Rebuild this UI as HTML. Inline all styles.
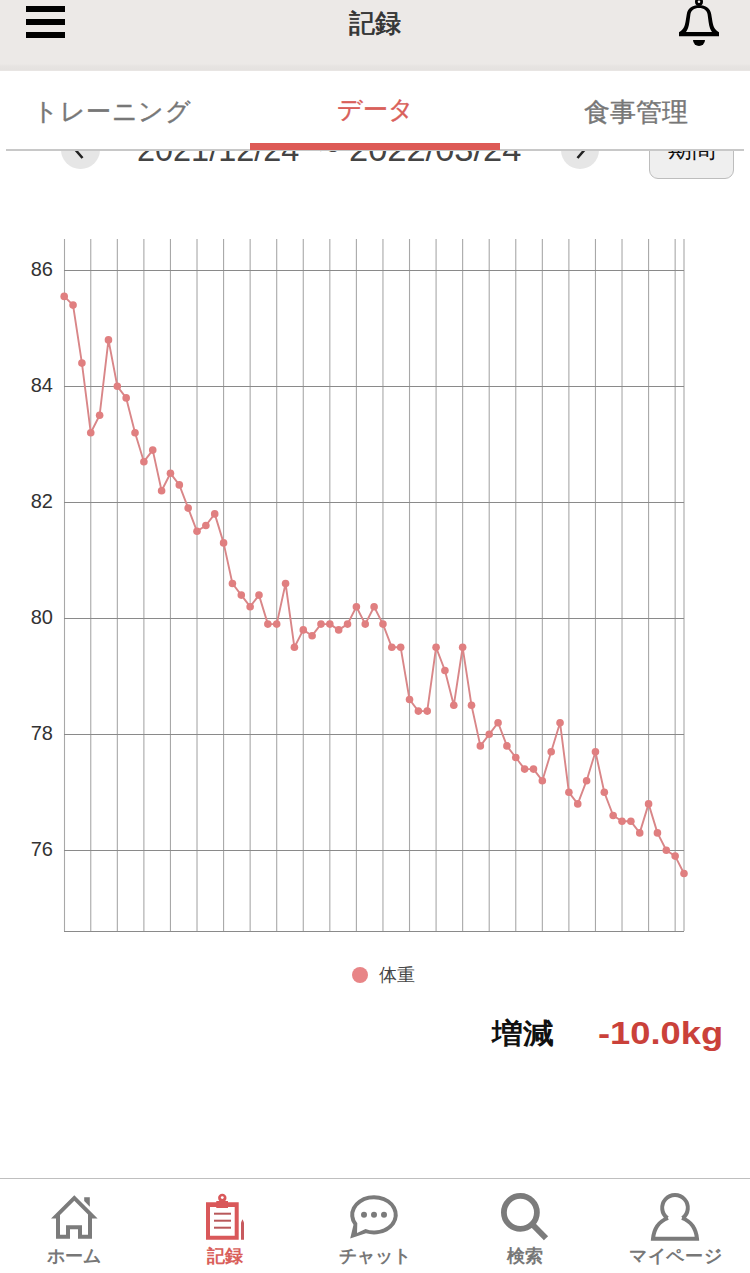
<!DOCTYPE html>
<html lang="ja"><head><meta charset="utf-8">
<style>
html,body{margin:0;padding:0;}
body{width:750px;height:1273px;position:relative;overflow:hidden;background:#fff;font-family:"Liberation Sans",sans-serif;}
.abs{position:absolute;}
.header{left:0;top:0;width:750px;height:71px;background:linear-gradient(to bottom,#ece9e7 0,#ece9e7 64px,#e7e4e2 66px,#e5e2e0 70px,#ebe8e6 71px);}
.ham{left:26px;width:39px;height:6px;background:#000;}
.title{left:0;width:750px;top:6px;text-align:center;font-size:26px;color:#333;line-height:34px;-webkit-text-stroke:0.7px #333;}
.daterow{left:0;top:120px;width:750px;height:60px;}
.circ{width:40px;height:40px;border-radius:50%;background:#e6e6e6;}
.dt{font-size:34px;color:#444;line-height:40px;white-space:nowrap;}
.btn{left:649px;top:120px;width:83px;height:57px;border:1px solid #bdbdbd;border-radius:9px;background:#efefef;}
.tabs{left:0;top:71px;width:750px;height:79px;background:#fff;}
.tab{font-size:26px;line-height:34px;color:#777;-webkit-text-stroke:0.4px #777;}
.tabline{left:6px;top:149px;width:738px;height:2px;background:#c8c8c8;}
.tabbar{left:250px;top:143px;width:250px;height:7px;background:#dd5a56;}
.chart{position:absolute;left:0;top:0;}
.legend-dot{left:352px;top:967px;width:16px;height:16px;border-radius:50%;background:#e88587;}
.legend{left:379px;top:962px;font-size:18px;color:#444;line-height:26px;}
.zg{left:492px;top:1014px;font-size:27.5px;font-weight:bold;color:#111;line-height:40px;transform:scaleX(1.1);transform-origin:0 0;}
.kg{left:598px;top:1013px;font-size:32px;font-weight:bold;color:#ca413a;line-height:40px;transform:scaleX(1.135);transform-origin:0 0;}
.nav{left:0;top:1178px;width:750px;height:95px;background:#fff;border-top:1px solid #bfbfbf;}
.nl{top:1244px;font-size:18px;font-weight:bold;color:#777;line-height:24px;}
</style></head><body>
<svg class="chart" width="750" height="1000" viewBox="0 0 750 1000">
<g stroke="#a8a8a8" stroke-width="1.1"><line x1="64.50" y1="239" x2="64.50" y2="931"/><line x1="90.76" y1="239" x2="90.76" y2="931"/><line x1="117.33" y1="239" x2="117.33" y2="931"/><line x1="143.89" y1="239" x2="143.89" y2="931"/><line x1="170.45" y1="239" x2="170.45" y2="931"/><line x1="197.01" y1="239" x2="197.01" y2="931"/><line x1="223.58" y1="239" x2="223.58" y2="931"/><line x1="250.14" y1="239" x2="250.14" y2="931"/><line x1="276.70" y1="239" x2="276.70" y2="931"/><line x1="303.27" y1="239" x2="303.27" y2="931"/><line x1="329.83" y1="239" x2="329.83" y2="931"/><line x1="356.39" y1="239" x2="356.39" y2="931"/><line x1="382.95" y1="239" x2="382.95" y2="931"/><line x1="409.52" y1="239" x2="409.52" y2="931"/><line x1="436.08" y1="239" x2="436.08" y2="931"/><line x1="462.64" y1="239" x2="462.64" y2="931"/><line x1="489.21" y1="239" x2="489.21" y2="931"/><line x1="515.77" y1="239" x2="515.77" y2="931"/><line x1="542.33" y1="239" x2="542.33" y2="931"/><line x1="568.89" y1="239" x2="568.89" y2="931"/><line x1="595.46" y1="239" x2="595.46" y2="931"/><line x1="622.02" y1="239" x2="622.02" y2="931"/><line x1="648.58" y1="239" x2="648.58" y2="931"/><line x1="675.15" y1="239" x2="675.15" y2="931"/><line x1="684.00" y1="239" x2="684.00" y2="931"/></g>
<g stroke="#8a8a8a" stroke-width="1"><line x1="64" y1="270.50" x2="684.00" y2="270.50"/><line x1="64" y1="386.50" x2="684.00" y2="386.50"/><line x1="64" y1="502.50" x2="684.00" y2="502.50"/><line x1="64" y1="618.50" x2="684.00" y2="618.50"/><line x1="64" y1="734.50" x2="684.00" y2="734.50"/><line x1="64" y1="850.50" x2="684.00" y2="850.50"/><line x1="64" y1="931.5" x2="684.00" y2="931.5"/></g>
<g font-family="Liberation Sans, sans-serif" font-size="20" fill="#333"><text x="53" y="276.30" text-anchor="end">86</text><text x="53" y="392.30" text-anchor="end">84</text><text x="53" y="508.30" text-anchor="end">82</text><text x="53" y="624.30" text-anchor="end">80</text><text x="53" y="740.30" text-anchor="end">78</text><text x="53" y="856.30" text-anchor="end">76</text></g>
<polyline points="64.20,296.40 73.05,305.10 81.91,363.10 90.76,432.70 99.62,415.30 108.47,339.90 117.33,386.30 126.18,397.90 135.03,432.70 143.89,461.70 152.74,450.10 161.60,490.70 170.45,473.30 179.31,484.90 188.16,508.10 197.01,531.30 205.87,525.50 214.72,513.90 223.58,542.90 232.43,583.50 241.29,595.10 250.14,606.70 258.99,595.10 267.85,624.10 276.70,624.10 285.56,583.50 294.41,647.30 303.27,629.90 312.12,635.70 320.97,624.10 329.83,624.10 338.68,629.90 347.54,624.10 356.39,606.70 365.25,624.10 374.10,606.70 382.95,624.10 391.81,647.30 400.66,647.30 409.52,699.50 418.37,711.10 427.23,711.10 436.08,647.30 444.93,670.50 453.79,705.30 462.64,647.30 471.50,705.30 480.35,745.90 489.21,734.30 498.06,722.70 506.91,745.90 515.77,757.50 524.62,769.10 533.48,769.10 542.33,780.70 551.19,751.70 560.04,722.70 568.89,792.30 577.75,803.90 586.60,780.70 595.46,751.70 604.31,792.30 613.17,815.50 622.02,821.30 630.87,821.30 639.73,832.90 648.58,803.90 657.44,832.90 666.29,850.30 675.15,856.10 684.00,873.50" fill="none" stroke="#d98688" stroke-width="1.9" stroke-linejoin="round"/>
<g fill="#e07f80"><circle cx="64.20" cy="296.40" r="3.8"/><circle cx="73.05" cy="305.10" r="3.8"/><circle cx="81.91" cy="363.10" r="3.8"/><circle cx="90.76" cy="432.70" r="3.8"/><circle cx="99.62" cy="415.30" r="3.8"/><circle cx="108.47" cy="339.90" r="3.8"/><circle cx="117.33" cy="386.30" r="3.8"/><circle cx="126.18" cy="397.90" r="3.8"/><circle cx="135.03" cy="432.70" r="3.8"/><circle cx="143.89" cy="461.70" r="3.8"/><circle cx="152.74" cy="450.10" r="3.8"/><circle cx="161.60" cy="490.70" r="3.8"/><circle cx="170.45" cy="473.30" r="3.8"/><circle cx="179.31" cy="484.90" r="3.8"/><circle cx="188.16" cy="508.10" r="3.8"/><circle cx="197.01" cy="531.30" r="3.8"/><circle cx="205.87" cy="525.50" r="3.8"/><circle cx="214.72" cy="513.90" r="3.8"/><circle cx="223.58" cy="542.90" r="3.8"/><circle cx="232.43" cy="583.50" r="3.8"/><circle cx="241.29" cy="595.10" r="3.8"/><circle cx="250.14" cy="606.70" r="3.8"/><circle cx="258.99" cy="595.10" r="3.8"/><circle cx="267.85" cy="624.10" r="3.8"/><circle cx="276.70" cy="624.10" r="3.8"/><circle cx="285.56" cy="583.50" r="3.8"/><circle cx="294.41" cy="647.30" r="3.8"/><circle cx="303.27" cy="629.90" r="3.8"/><circle cx="312.12" cy="635.70" r="3.8"/><circle cx="320.97" cy="624.10" r="3.8"/><circle cx="329.83" cy="624.10" r="3.8"/><circle cx="338.68" cy="629.90" r="3.8"/><circle cx="347.54" cy="624.10" r="3.8"/><circle cx="356.39" cy="606.70" r="3.8"/><circle cx="365.25" cy="624.10" r="3.8"/><circle cx="374.10" cy="606.70" r="3.8"/><circle cx="382.95" cy="624.10" r="3.8"/><circle cx="391.81" cy="647.30" r="3.8"/><circle cx="400.66" cy="647.30" r="3.8"/><circle cx="409.52" cy="699.50" r="3.8"/><circle cx="418.37" cy="711.10" r="3.8"/><circle cx="427.23" cy="711.10" r="3.8"/><circle cx="436.08" cy="647.30" r="3.8"/><circle cx="444.93" cy="670.50" r="3.8"/><circle cx="453.79" cy="705.30" r="3.8"/><circle cx="462.64" cy="647.30" r="3.8"/><circle cx="471.50" cy="705.30" r="3.8"/><circle cx="480.35" cy="745.90" r="3.8"/><circle cx="489.21" cy="734.30" r="3.8"/><circle cx="498.06" cy="722.70" r="3.8"/><circle cx="506.91" cy="745.90" r="3.8"/><circle cx="515.77" cy="757.50" r="3.8"/><circle cx="524.62" cy="769.10" r="3.8"/><circle cx="533.48" cy="769.10" r="3.8"/><circle cx="542.33" cy="780.70" r="3.8"/><circle cx="551.19" cy="751.70" r="3.8"/><circle cx="560.04" cy="722.70" r="3.8"/><circle cx="568.89" cy="792.30" r="3.8"/><circle cx="577.75" cy="803.90" r="3.8"/><circle cx="586.60" cy="780.70" r="3.8"/><circle cx="595.46" cy="751.70" r="3.8"/><circle cx="604.31" cy="792.30" r="3.8"/><circle cx="613.17" cy="815.50" r="3.8"/><circle cx="622.02" cy="821.30" r="3.8"/><circle cx="630.87" cy="821.30" r="3.8"/><circle cx="639.73" cy="832.90" r="3.8"/><circle cx="648.58" cy="803.90" r="3.8"/><circle cx="657.44" cy="832.90" r="3.8"/><circle cx="666.29" cy="850.30" r="3.8"/><circle cx="675.15" cy="856.10" r="3.8"/><circle cx="684.00" cy="873.50" r="3.8"/></g>
</svg>
<!-- date row (behind tabs) -->
<div class="abs circ" style="left:61px;top:130px;width:38.5px;height:38.5px;"></div>
<div class="abs circ" style="left:560.5px;top:130px;width:38.5px;height:38.5px;"></div>
<svg class="abs" style="left:0;top:120px;" width="750" height="60" viewBox="0 120 750 60">
<polyline points="82.5,143.5 76.5,151 82.5,158" fill="none" stroke="#222" stroke-width="2.6"/>
<polyline points="577.5,143.5 583.5,151 577.5,158" fill="none" stroke="#222" stroke-width="2.6"/>
</svg>
<div class="abs dt" id="d1" style="left:137px;top:129px;transform:scaleX(0.954);transform-origin:0 0;">2021/12/24</div>
<div class="abs dt" id="dt" style="left:319px;top:129px;">~</div>
<div class="abs dt" id="d2" style="left:348.6px;top:129px;transform:scaleX(1.013);transform-origin:0 0;">2022/03/24</div>
<div class="abs btn"></div>
<div class="abs" style="left:649px;top:134px;width:85px;text-align:center;font-size:24px;color:#111;line-height:30px;">期間</div>

<div class="abs tabs"></div>
<div class="abs tab" style="left:33px;top:93.5px;font-size:25.4px;letter-spacing:0.5px;">トレーニング</div>
<div class="abs tab" style="left:337px;top:92px;color:#d9605a;-webkit-text-stroke:0.4px #d9605a;font-size:25.3px;">データ</div>
<div class="abs tab" style="left:584px;top:95px;">食事管理</div>
<div class="abs tabline"></div>
<div class="abs tabbar"></div>

<div class="abs header"></div>
<div class="abs ham" style="top:6px;"></div>
<div class="abs ham" style="top:19px;"></div>
<div class="abs ham" style="top:32px;"></div>
<div class="abs title">記録</div>
<svg class="abs" style="left:0;top:0;" width="750" height="71" viewBox="0 0 750 71">
<path fill="#000" fill-rule="evenodd" d="M679 36.2 L719 36.2 L719 32.2 C716 30.5 713.5 28 712.5 22 L711.2 14 C710.3 8.5 706 5 699 5 C692 5 687.7 8.5 686.8 14 L685.5 22 C684.5 28 682 30.5 679 32.2 Z M686 32 L712 32 C710.5 30 709.3 27 708.6 22 L707.6 14.5 C707 10.5 704 8 699 8 C694 8 691 10.5 690.4 14.5 L689.4 22 C688.7 27 687.5 30 686 32 Z"/>
<circle cx="699" cy="1.8" r="2.65" fill="none" stroke="#000" stroke-width="2.7"/>
<path fill="#000" d="M693 40 L705 40 A6 6 0 0 1 693 40 Z"/>
</svg>

<div class="abs legend-dot"></div>
<div class="abs legend">体重</div>
<div class="abs zg">増減</div>
<div class="abs kg">-10.0kg</div>

<div class="abs nav"></div>
<svg class="abs" style="left:0;top:1180px;" width="750" height="93" viewBox="0 1180 750 93">
<path fill="#7b7b7b" fill-rule="evenodd" d="M74.3 1195.3 L97.6 1218.6 L92 1218.6 L92 1238.7 L78 1238.7 L78 1229.3 L70 1229.3 L70 1238.7 L56 1238.7 L56 1218.6 L51 1218.6 Z M74.3 1200.8 L60 1215.1 L60 1234.7 L66 1234.7 L66 1225.3 L82 1225.3 L82 1234.7 L88 1234.7 L88 1214.5 Z M84.2 1197.2 L89.8 1197.2 L89.8 1206.7 L84.2 1201.1 Z"/>
<g fill="#d9585a">
<path fill-rule="evenodd" d="M206 1202.3 L238.7 1202.3 L238.7 1239.7 L206 1239.7 Z M210 1207 L234.7 1207 L234.7 1235.7 L210 1235.7 Z"/>
<rect x="216.3" y="1201" width="11.7" height="7"/>
<circle cx="222.3" cy="1198" r="4.2"/>
<path d="M241 1239.7 L241 1222.5 L242.5 1219.3 L244 1222.5 L244 1239.7 Z" fill="#c85a5e"/>
</g>
<circle cx="222.3" cy="1197.6" r="1.4" fill="#fff"/>
<g fill="#b8585a"><rect x="214" y="1212.7" width="17" height="2"/><rect x="214" y="1219.7" width="17" height="2"/><rect x="214" y="1226.7" width="17" height="2"/></g>
<g fill="#7b7b7b">
<path fill-rule="evenodd" d="M350.2 1238.4 L353.5 1224.8 A23.8 19.6 0 1 1 366 1233.3 Z M357.3 1223.2 L357 1233 L365.5 1228.9 A19.8 15.6 0 1 0 357.3 1223.2 Z"/>
<circle cx="364" cy="1214.8" r="3"/><circle cx="374" cy="1214.8" r="3"/><circle cx="384" cy="1214.8" r="3"/>
</g>
<circle cx="520.4" cy="1212.4" r="16.5" fill="none" stroke="#7b7b7b" stroke-width="5.8"/>
<line x1="531" y1="1223" x2="546" y2="1238.2" stroke="#7b7b7b" stroke-width="5.9"/>
<path d="M667.5 1218.2 A12.8 12.8 0 1 1 682.5 1218.2 M682 1218 C690 1221 696 1228 697 1238.8 L653 1238.8 C654 1228 660 1221 668 1218" fill="none" stroke="#7b7b7b" stroke-width="4"/>
</svg>
<div class="abs nl" style="left:47px;">ホーム</div>
<div class="abs nl" style="left:207px;color:#d9605a;">記録</div>
<div class="abs nl" style="left:339px;">チャット</div>
<div class="abs nl" style="left:507px;">検索</div>
<div class="abs nl" style="left:629px;letter-spacing:0.7px;">マイページ</div>
</body></html>
